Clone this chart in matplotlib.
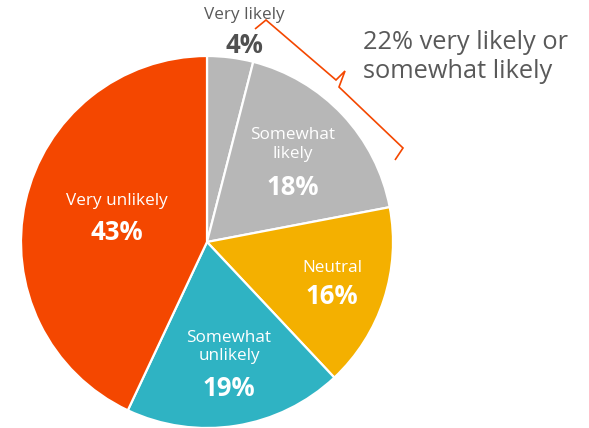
import matplotlib.pyplot as plt
from matplotlib.path import Path
from matplotlib.patches import PathPatch

plt.rcParams['font.family'] = ['Open Sans', 'DejaVu Sans']

# Likelihood survey responses (percent)
categories = ['Very likely', 'Somewhat likely', 'Neutral', 'Somewhat unlikely', 'Very unlikely']
shares = [4, 18, 16, 19, 43]
colors = ['#B7B7B7', '#B7B7B7', '#F4B000', '#2FB3C3', '#F44700']
combined_note = '22% very likely or\nsomewhat likely'

W, H = 589, 428
fig = plt.figure(figsize=(W / 100, H / 100), dpi=100)
ax = fig.add_axes([0, 0, 1, 1])

cx, cy, r = 207, H - 242, 186
ax.pie(shares, colors=colors, startangle=90, counterclock=False,
       center=(cx, cy), radius=r, frame=True,
       wedgeprops=dict(edgecolor='white', linewidth=1.6))
ax.set_xlim(0, W)
ax.set_ylim(0, H)
ax.set_aspect('equal')
ax.axis('off')

# slice labels: (name text, x, y of name, y of percent, colour)
labels = [
    ('Very likely', 244, 15, 45, '#595959'),
    ('Somewhat\nlikely', 293, 144, 187, 'white'),
    ('Neutral', 332, 268, 297, 'white'),
    ('Somewhat\nunlikely', 229, 347, 389, 'white'),
    ('Very unlikely', 117, 201, 232, 'white'),
]
for (name, x, y_name, y_pct, col), val in zip(labels, shares):
    ax.text(x, H - y_name, name, ha='center', va='center', fontsize=12.3,
            color=col, linespacing=1.25)
    ax.text(x, H - y_pct, f'{val}%', ha='center', va='center', fontsize=18.5,
            fontweight='bold', color=col if col == 'white' else '#505050')

# bracket grouping the two "likely" slices
pts = [(255, 29), (266, 20), (336, 80), (345, 71), (339, 87), (403, 148), (395, 160)]
bracket = Path([(x, H - y) for x, y in pts])
ax.add_patch(PathPatch(bracket, fill=False, edgecolor='#F44700', linewidth=1.2))

ax.text(363, H - 57, combined_note, ha='left', va='center', fontsize=18.3,
        color='#595959', linespacing=1.22)

fig.savefig('out.png', dpi=100)
